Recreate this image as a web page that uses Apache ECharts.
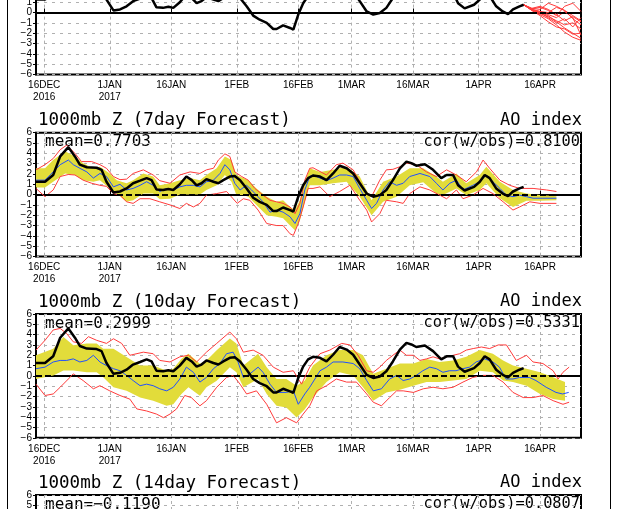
<!DOCTYPE html>
<html>
<head>
<meta charset="utf-8">
<title>AO index forecasts</title>
<script src="https://cdn.jsdelivr.net/npm/echarts@6/dist/echarts.min.js"></script>
<style>
html, body { margin: 0; padding: 0; background: #fff; }
#AOChart { width: 618px; height: 509px; }
</style>
</head>
<body>
<div id="AOChart"></div>
<script>
// x = days since 14 Dec 2016 (axis runs to 26 Apr 2017 = day 133)
var dayCount = 134;
var tickDays = [2, 18, 33, 49, 64, 77, 92, 108, 123];
var tickNames = ['16DEC\n2016', '1JAN\n2017', '16JAN', '1FEB', '16FEB', '1MAR', '16MAR', '1APR', '16APR'];

var panelTitles = ['1000mb Z (7day Forecast)', '1000mb Z (10day Forecast)', '1000mb Z (14day Forecast)'];
var panelMeans = ['mean=0.7703', 'mean=0.2999', 'mean=\u22120.1190'];
var panelCors = ['cor(w/obs)=0.8100', 'cor(w/obs)=0.5331', 'cor(w/obs)=0.0807'];

// observed AO index
var obs = [[0,1.25],[2.2,1.25],[4.2,1.9],[5.9,3.7],[7.9,4.6],[9.5,3.7],[10.7,2.9],[12.4,2.65],[14.8,2.6],[16,2.4],[17.2,1.25],[18.9,0.2],[20.5,0.3],[22.1,0.6],[23.7,1.1],[25.4,1.35],[27,1.6],[28.2,1.4],[29.4,0.5],[31,0.45],[32.3,0.55],[33.5,0.45],[35.1,1.0],[36.7,1.75],[38,1.4],[39.2,0.9],[40.4,1.1],[41.6,1.5],[43.3,1.25],[44.5,1.1],[45.7,1.4],[47.3,1.75],[48.5,1.8],[49.8,1.4],[51.4,0.6],[53,-0.3],[54.6,-0.7],[56.3,-1.0],[57.9,-1.6],[58.7,-1.6],[60.3,-1.25],[62,-1.5],[62.8,-1.65],[64,-0.2],[65.2,0.9],[66.4,1.6],[67.6,1.85],[69.3,1.75],[70.9,1.4],[72.5,2.05],[74.1,2.8],[75.8,2.55],[77.4,2.05],[79,1.1],[80.7,0.1],[82.3,-0.2],[83.9,-0.05],[85.5,0.45],[87.1,1.4],[88.8,2.55],[90.4,3.2],[91.6,3.05],[92.8,2.8],[94.9,2.95],[96.9,2.4],[98.9,1.6],[100.2,1.9],[101.8,1.9],[103,0.9],[104.6,0.4],[106.9,0.75],[108.3,1.25],[109.5,1.9],[110.7,1.6],[112.3,0.6],[113.9,0.1],[115.2,-0.15],[116.4,0.3],[118,0.6],[119,0.75]];

// 7day forecast: ensemble mean, spread band, min / max
var mean7 = [[0,1.4],[2.2,1.4],[4.2,2.2],[5.9,2.9],[7.9,3.35],[9.1,2.9],[10.7,2.55],[12.4,2.2],[14,1.6],[15.6,2.05],[17.2,1.75],[18.9,0.75],[20.5,1.0],[22.1,0.45],[23.7,0.6],[25.4,0.9],[27,1.25],[28.6,0.9],[30.2,0.3],[31.9,0.6],[33.5,0.45],[35.1,0.75],[36.7,0.9],[38.4,0.9],[40,0.75],[41.6,1.25],[43.3,1.4],[44.9,2.05],[46.1,2.9],[47.3,2.4],[48.5,1.1],[49.8,0.45],[51.4,0.9],[52.6,0.45],[53.8,-0.05],[55.4,-0.7],[57.1,-1.7],[58.7,-1.5],[60.3,-1.7],[62,-2.15],[63.2,-2.8],[64.4,-1.85],[65.6,0.45],[66.8,1.75],[67.6,1.9],[69.3,1.6],[70.9,1.35],[72.5,1.6],[74.1,1.9],[75.8,1.9],[77.4,1.75],[79,0.6],[80.7,-0.55],[81.9,-1.35],[83.1,-0.85],[84.7,0.45],[86.3,1.25],[88,0.9],[89.6,1.1],[91.2,1.75],[93.7,2.05],[96.1,1.75],[97.7,1.1],[99.3,0.45],[101,1.1],[102.6,1.4],[104.2,0.45],[106.6,0.9],[108.3,1.25],[109.9,1.9],[111.5,1.25],[113.2,0.6],[114.8,-0.05],[116.4,-0.2],[118,-0.05],[119.7,-0.2],[121.3,-0.35],[123.7,-0.35],[127,-0.35]];
var bandUp7 = [[0,2.55],[2.2,2.55],[4.2,3.35],[7.1,4.2],[9.5,3.7],[11.5,3.05],[14,2.55],[15.6,2.7],[18,2.05],[19.7,1.4],[22.1,1.1],[23.7,1.4],[26.2,2.05],[28.6,1.75],[30.2,0.9],[32.7,1.1],[35.1,1.4],[37.6,1.6],[40,1.4],[41.6,1.9],[44.1,2.55],[46.1,3.7],[47.7,3.35],[48.9,1.9],[50.6,1.6],[51.8,1.4],[53.8,0.6],[56.3,-0.2],[58.7,-0.7],[60.3,-0.55],[62,-1.2],[63.2,-1.5],[64.4,-0.55],[65.6,1.25],[66.8,2.55],[69.3,2.2],[72.5,2.4],[75.8,2.7],[79,1.75],[81.9,-0.55],[84.7,1.25],[88,1.75],[91.2,2.55],[94.5,2.55],[97.7,1.75],[99.3,1.25],[102.6,2.05],[105,1.1],[108.3,1.9],[109.9,2.7],[113.2,1.25],[116.4,0.45],[119.7,0.1],[123,-0.05],[127,-0.15]];
var bandLo7 = [[0,0.7],[2.2,0.7],[4.2,1.25],[7.1,2.05],[9.5,1.9],[11.5,1.4],[14,1.25],[15.6,1.4],[18,0.6],[19.7,0.1],[22.1,-0.7],[23.7,-0.55],[26.2,0.1],[28.6,0.1],[30.2,-0.45],[32.7,-0.4],[35.1,0.0],[37.6,0.0],[40,0.0],[41.6,0.45],[44.1,0.9],[46.1,1.9],[47.7,1.25],[48.9,-0.05],[50.6,-0.05],[51.8,-0.2],[53.8,-1.0],[56.3,-2.0],[58.7,-2.15],[60.3,-2.3],[62,-3.0],[63.2,-3.45],[64.4,-2.5],[65.6,-0.7],[66.8,0.9],[69.3,0.9],[72.5,1.1],[75.8,1.25],[79,-0.2],[81.9,-2.0],[84.7,-0.7],[88,-0.2],[91.2,0.9],[94.5,1.2],[97.7,0.1],[99.3,-0.05],[102.6,0.6],[105,-0.05],[108.3,0.45],[109.9,1.1],[113.2,-0.35],[116.4,-1.2],[119.7,-0.6],[123,-0.6],[127,-0.55]];
var max7 = [[0,2.4],[2.2,2.9],[4.2,3.5],[5.9,4.35],[7.5,4.8],[9.5,4.0],[11.1,3.2],[13.6,3.2],[15.6,2.9],[17.2,2.55],[18.9,1.75],[20.5,1.45],[22.1,1.5],[23.7,2.05],[26.2,2.4],[28.6,1.9],[30.2,1.35],[32.7,1.1],[35.1,1.9],[37.6,2.2],[40,2.05],[41.6,2.4],[43.3,2.55],[44.5,3.35],[46.1,3.95],[47.3,3.7],[48.5,2.2],[50.2,1.75],[51.8,1.4],[53.4,0.6],[55.4,-0.05],[57.1,-0.55],[58.7,-0.7],[60.3,-0.85],[62,-1.2],[63.2,-1.85],[64.4,-0.85],[65.6,1.4],[66.8,2.55],[67.6,2.6],[70.9,1.9],[73.3,2.9],[74.9,3.05],[77.4,2.4],[79,1.25],[80.7,0.1],[81.9,-0.2],[83.9,1.4],[85.5,2.4],[87.1,2.45],[88.8,2.7],[90.4,3.05],[92.8,2.9],[95.3,2.2],[97.7,1.75],[100.2,2.4],[102.6,1.9],[105,1.25],[107.5,2.2],[109.1,3.35],[110.7,2.55],[113.2,1.4],[115.6,0.9],[118,0.6],[121.3,0.6],[124.6,0.45],[127,0.3]];
var min7 = [[0,0.6],[2.2,-0.2],[4.2,0.45],[5.9,1.75],[7.9,1.95],[9.5,1.9],[11.5,1.4],[13.6,1.1],[15.6,0.9],[17.2,0.8],[18.9,0.1],[20.5,-0.05],[22.1,-0.7],[23.7,-0.85],[25.4,-0.4],[27.8,-0.4],[30.2,-0.7],[32.7,-1.0],[35.1,-1.35],[36.7,-0.85],[38.4,-1.2],[40,-0.85],[41.6,-0.05],[44.1,0.1],[46.5,0.3],[48.1,-0.4],[49.1,-0.85],[50.6,-0.4],[52.2,-0.55],[54.2,-1.5],[56.3,-2.8],[58.7,-3.0],[60.3,-3.0],[62,-3.8],[62.8,-3.95],[64,-2.8],[65.2,-1.2],[66.4,0.6],[67.6,0.6],[69.3,0.75],[71.7,-0.2],[74.1,0.3],[76.6,0.9],[79,-0.55],[80.7,-1.5],[81.9,-2.65],[83.9,-1.85],[85.5,-0.55],[88,-0.7],[89.6,-0.85],[91.2,0.1],[93.7,0.75],[96.1,0.45],[98.5,-0.05],[100.2,-0.4],[102.6,0.45],[104.2,-0.4],[106.6,-0.05],[109.1,0.6],[111.5,0.1],[114,-0.7],[116.4,-1.5],[118,-1.2],[120.5,-0.7],[123,-0.85],[127,-0.85]];

// 10day forecast
var mean10 = [[0,0.7],[2.2,0.85],[4.2,1.35],[5.9,1.5],[7.5,1.5],[9.1,1.65],[10.7,1.35],[12.4,1.5],[14,2.0],[15.6,1.35],[17.2,1.0],[18.9,0.7],[20.5,0.5],[22.1,0.05],[23.7,-0.45],[25.4,-0.95],[27,-0.8],[28.6,-0.95],[30.2,-1.25],[31.9,-1.45],[33.5,-1.1],[35.1,-0.3],[36.7,0.85],[38.4,0.35],[40,-0.6],[41.6,-0.15],[43.3,0.7],[44.9,1.2],[46.5,2.15],[48.1,2.3],[49.3,1.35],[50.6,-0.15],[52.2,0.2],[54.2,0.85],[55.4,0.35],[57.1,-0.8],[58.7,-1.6],[61.1,-1.6],[62.8,-1.45],[64,-2.75],[65.6,-1.75],[66.8,-1.1],[68.3,-0.15],[69.3,0.5],[70.9,0.85],[72.5,1.35],[74.9,1.35],[77.4,1.2],[79,0.7],[80.7,-0.45],[82.3,-1.45],[84.3,-1.25],[86.3,-0.3],[88,0.05],[89.6,-0.45],[91.2,-0.3],[92.8,0.05],[94.4,0.5],[96.1,0.85],[97.7,0.7],[99.3,0.35],[100.9,0.5],[102.5,0.5],[104.2,0.7],[105.8,0.85],[107.4,1.35],[109.5,1.65],[111.5,1.35],[113.1,0.85],[114.7,-0.3],[116.4,-0.3],[118,-0.15],[120.4,-0.15],[122,-0.45],[124.5,-1.1],[126.9,-1.6],[128.5,-1.75],[130,-1.6]];
var bandUp10 = [[0,2.0],[4.2,2.64],[6.7,3.78],[9.1,2.97],[12.4,3.13],[14.8,3.13],[16.4,2.64],[18.9,2.64],[22.1,1.83],[25.4,1.01],[28.6,1.01],[31.9,0.5],[33.5,0.69],[35.5,1.66],[37.2,2.15],[40,1.17],[41.6,1.5],[44.1,2.48],[47.3,3.62],[48.9,3.13],[50.6,1.01],[54.2,2.15],[56.3,0.85],[58.7,-0.3],[61.1,-0.3],[63.6,-0.95],[65.6,-0.45],[67.6,1.0],[70.9,2.0],[74.1,2.5],[77.4,2.5],[79.8,2.0],[82.3,0.2],[85.5,0.7],[88.8,1.2],[92.1,1.2],[95.3,1.65],[98.5,1.35],[101.8,1.5],[105,1.85],[108.3,2.5],[111.5,2.15],[114,1.5],[116.4,1.0],[119.7,0.7],[123,0.35],[126.2,-0.13],[129.1,-0.6]];
var bandLo10 = [[0,-0.3],[4.2,0.03],[6.7,0.52],[9.1,0.52],[12.4,0.36],[14.8,0.36],[16.4,-0.13],[18.9,-1.1],[22.1,-1.43],[25.4,-2.09],[28.6,-2.4],[31.9,-2.9],[33.5,-2.74],[35.5,-1.76],[37.2,-1.1],[40,-1.92],[41.6,-1.1],[44.1,-0.46],[47.3,0.85],[48.9,0.36],[50.6,-1.1],[54.2,-0.3],[56.3,-1.76],[58.7,-2.9],[61.1,-3.06],[63.6,-4.04],[65.6,-3.23],[67.6,-2.1],[70.9,-0.6],[74.1,0.35],[77.4,0.05],[79.8,-1.1],[82.3,-2.4],[85.5,-1.6],[88.8,-1.35],[92.1,-0.95],[95.3,-0.6],[98.5,-0.6],[101.8,-0.45],[105,-0.3],[108.3,0.5],[111.5,0.35],[114,-0.45],[116.4,-0.6],[119.7,-0.95],[123,-1.75],[126.2,-2.25],[129.1,-2.4]];
var max10 = [[0,2.5],[2.2,3.45],[4.2,4.45],[5.9,4.6],[7.5,4.1],[9.1,3.3],[11.1,3.15],[12.8,3.8],[14.8,3.45],[17.2,3.15],[18.9,3.6],[20.9,3.15],[22.9,2.0],[26.2,2.3],[28.6,2.15],[30.2,1.5],[32.7,1.35],[35.1,1.85],[37.2,2.0],[39.2,1.35],[41.6,2.3],[44.1,3.15],[47.3,4.25],[48.9,3.6],[50.6,2.3],[53,2.5],[55.4,2.0],[57.9,0.85],[60.3,0.35],[62.8,0.5],[64.8,-0.8],[66.8,0.85],[69.3,2.15],[71.7,2.5],[74.6,3.15],[76.6,3.0],[78.6,2.0],[80.7,0.5],[82.3,0.35],[83.9,0.85],[85.5,1.5],[87.1,2.0],[88.8,2.5],[90.4,2.0],[92.1,2.0],[93.7,1.5],[95.3,1.65],[96.9,1.85],[98.5,1.65],[100.2,1.85],[101.8,2.0],[103.4,2.15],[105,2.5],[106.7,2.65],[108.7,2.8],[110.7,2.65],[112.8,3.0],[114.8,3.0],[117.2,1.5],[119.7,2.0],[121.3,1.35],[123.7,1.2],[126.2,0.5],[127.4,-0.3],[128.6,0.35],[130.1,0.85]];
var min10 = [[0,-0.8],[2.2,-1.9],[4.2,-1.75],[5.9,-1.1],[7.9,-0.3],[9.1,0.2],[11.5,-0.45],[14,-1.25],[15.6,-0.95],[18,-1.45],[20.5,-1.9],[22.9,-2.25],[24.6,-3.2],[27,-3.4],[29.4,-3.7],[31.1,-4.05],[32.7,-3.7],[34.3,-3.2],[36.3,-1.9],[37.9,-2.1],[40,-2.9],[41.6,-2.4],[44.1,-1.1],[46.5,-0.15],[48.1,0.05],[49.8,-0.8],[51.4,-1.75],[53.8,-1.45],[56.3,-2.75],[58.7,-4.55],[61.1,-4.05],[63.6,-4.55],[65.2,-3.7],[66.8,-2.9],[68.5,-1.45],[70.9,-0.95],[73.3,-0.3],[75.8,-0.6],[78.2,-0.6],[80.7,-1.75],[82.3,-2.55],[84.3,-2.9],[86.3,-2.1],[88,-1.45],[89.6,-1.45],[92.1,-1.6],[94.5,-1.25],[96.9,-1.1],[99.3,-1.25],[101.8,-1.1],[104.2,-0.6],[106.6,-0.15],[109.1,0.05],[111.5,0.05],[114,-0.6],[116.4,-1.6],[118.9,-2.1],[121.3,-2.1],[123.7,-1.9],[126.2,-2.4],[128.6,-2.75],[130.1,-2.55]];

// top panel: ensemble members after the last observation
var spagDays = [119, 121, 123, 125, 127, 129, 131, 133];
var spagMembers = [
    [0.75, 0.4, 0.3, 0.9, 0.6, 0.2, -0.3, -0.8],
    [0.75, 0.3, 0.0, -0.3, -0.9, -1.5, -2.0, -2.5],
    [0.75, 0.2, -0.2, -0.6, -1.2, -1.9, -2.4, -2.7],
    [0.75, 0.35, 0.5, 0.2, -0.3, 0.6, 0.9, 0.1],
    [0.75, 0.25, -0.1, -0.4, -0.8, -1.2, -1.0, -1.6],
    [0.75, 0.3, 0.1, 0.0, 0.5, 0.2, -0.6, -1.2],
    [0.75, 0.2, -0.3, -0.9, -1.4, -1.6, -2.1, -2.0],
    [0.75, 0.4, 0.6, 0.3, -0.2, -0.8, -0.4, -0.9],
    [0.75, 0.3, 0.1, -0.2, -0.5, 0.1, -0.5, -2.2],
    [0.75, 0.25, 0.0, -0.5, -1.0, -0.6, -1.4, -0.5]
];

var panelTops = [-49.4, 132.7, 314, 495];
var panelHeight = 123.8;
var tickFont = "'Liberation Sans', 'DejaVu Sans', sans-serif";
var textFont = "'DejaVu Sans Mono', monospace";

function isTickDay(idx) {
    return tickDays.indexOf(Number(idx)) >= 0;
}
function dayLabel(idx) {
    var k = tickDays.indexOf(Number(idx));
    return k < 0 ? '' : tickNames[k];
}

function bandRender(up, lo) {
    return function (params, api) {
        var pts = [];
        for (var i = 0; i < up.length; i++) {
            pts.push(api.coord(up[i]));
        }
        for (var j = lo.length - 1; j >= 0; j--) {
            pts.push(api.coord(lo[j]));
        }
        return { type: 'polygon', shape: { points: pts }, style: { fill: '#e2dc3a' }, silent: true };
    };
}

function lineSeries(g, data, color, width, z) {
    return {
        type: 'line', xAxisIndex: g * 2 + 1, yAxisIndex: g,
        data: data, showSymbol: false, symbol: 'none', silent: true,
        lineStyle: { color: color, width: width }, z: z, animation: false
    };
}

function zeroLine() {
    return {
        silent: true, symbol: 'none', label: { show: false },
        lineStyle: { color: '#000', width: 1.8, type: [6, 3] },
        data: [{ yAxis: 0 }]
    };
}

function GetAOChart() {
    var cats = [];
    for (var i = 0; i < dayCount; i++) {
        cats.push(String(i));
    }
    var grids = [], xAxes = [], yAxes = [], series = [], texts = [];

    for (var g = 0; g < panelTops.length; g++) {
        grids.push({
            left: 36, right: 37, top: panelTops[g], height: panelHeight,
            outerBoundsMode: 'none', containLabel: false,
            show: true, borderColor: '#000', borderWidth: 2
        });
        xAxes.push({
            type: 'category', gridIndex: g, data: cats, boundaryGap: false,
            axisLine: { lineStyle: { color: '#000', width: 2 } },
            axisTick: { inside: true, length: 4, interval: function (idx) { return isTickDay(idx); }, lineStyle: { color: '#000' } },
            axisLabel: {
                interval: function (idx) { return isTickDay(idx); },
                formatter: function (v) { return dayLabel(v); },
                fontFamily: tickFont, fontSize: 10, lineHeight: 12, color: '#000', margin: 5
            },
            splitLine: {
                show: true, interval: function (idx) { return isTickDay(idx); },
                lineStyle: { color: '#b0b0b0', width: 1, type: [3, 3] }
            }
        });
        xAxes.push({ type: 'value', gridIndex: g, min: 0, max: dayCount - 1, show: false });
        yAxes.push({
            type: 'value', gridIndex: g, min: -6, max: 6, interval: 1,
            axisLine: { show: true, lineStyle: { color: '#000', width: 2 } },
            axisTick: { show: true, length: 3, lineStyle: { color: '#000' } },
            axisLabel: {
                fontFamily: tickFont, fontSize: 10, color: '#000', margin: 4,
                formatter: function (v) { return v < 0 ? '\u2212' + (-v) : String(v); }
            },
            splitLine: { show: true, lineStyle: { color: '#b0b0b0', width: 1, type: [3, 5] } }
        });
    }

    // top panel: observations + spaghetti
    for (var m = 0; m < spagMembers.length; m++) {
        var pts = [];
        for (var k = 0; k < spagDays.length; k++) {
            pts.push([spagDays[k], spagMembers[m][k]]);
        }
        series.push(lineSeries(0, pts, '#ff3b3b', 1, 3));
    }
    var top = lineSeries(0, obs, '#000', 2.5, 5);
    top.markLine = zeroLine();
    series.push(top);

    // forecast panels
    var fc = [
        { up: bandUp7, lo: bandLo7, mean: mean7, max: max7, min: min7 },
        { up: bandUp10, lo: bandLo10, mean: mean10, max: max10, min: min10 }
    ];
    for (var p = 0; p < fc.length; p++) {
        var gi = p + 1;
        series.push({
            type: 'custom', xAxisIndex: gi * 2 + 1, yAxisIndex: gi, silent: true,
            renderItem: bandRender(fc[p].up, fc[p].lo), data: [[0, 0]], z: 1, animation: false
        });
        series.push(lineSeries(gi, fc[p].max, '#ff3b3b', 1, 3));
        series.push(lineSeries(gi, fc[p].min, '#ff3b3b', 1, 3));
        series.push(lineSeries(gi, fc[p].mean, '#2050ff', 1, 4));
        var ob = lineSeries(gi, obs, '#000', 2.5, 5);
        ob.markLine = zeroLine();
        series.push(ob);
    }

    // panel headers and stats
    for (var t = 0; t < panelTitles.length; t++) {
        var y0 = panelTops[t + 1];
        texts.push({ type: 'text', x: 38, y: y0 - 12, style: { text: panelTitles[t], font: '17.5px ' + textFont, fill: '#000', textVerticalAlign: 'middle' } });
        texts.push({ type: 'text', x: 582, y: y0 - 12, style: { text: 'AO index', font: '17px ' + textFont, fill: '#000', textAlign: 'right', textVerticalAlign: 'middle' } });
        texts.push({ type: 'text', x: 45, y: y0 + 9.5, style: { text: panelMeans[t], font: '16px ' + textFont, fill: '#000', textVerticalAlign: 'middle' } });
        texts.push({ type: 'text', x: 580, y: y0 + 9.5, style: { text: panelCors[t], font: '15.3px ' + textFont, fill: '#000', textAlign: 'right', textVerticalAlign: 'middle' } });
    }
    // page frame
    texts.push({ type: 'line', shape: { x1: 7.5, y1: 0, x2: 7.5, y2: 509 }, style: { stroke: '#000', lineWidth: 1 } });
    texts.push({ type: 'line', shape: { x1: 610.5, y1: 0, x2: 610.5, y2: 509 }, style: { stroke: '#000', lineWidth: 1 } });

    var myChart = echarts.init(document.getElementById('AOChart'));
    var option = {
        backgroundColor: '#fff',
        animation: false,
        grid: grids,
        xAxis: xAxes,
        yAxis: yAxes,
        series: series,
        graphic: texts
    };
    myChart.setOption(option);
}

GetAOChart();
</script>
</body>
</html>
